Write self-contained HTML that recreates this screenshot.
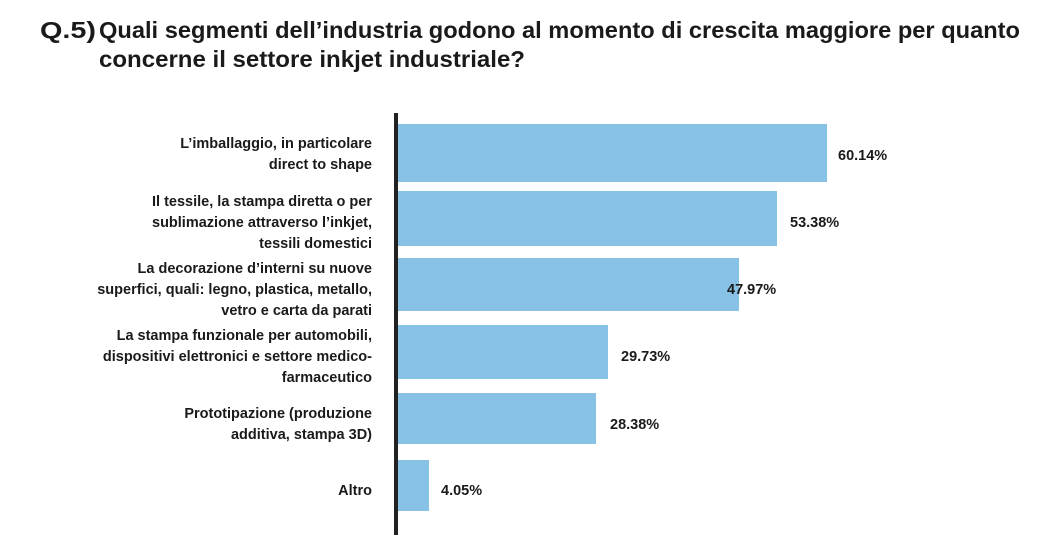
<!DOCTYPE html>
<html><head><meta charset="utf-8"><style>
html,body{margin:0;padding:0;background:#fff;}
svg{display:block;}
text{font-family:"Liberation Sans",sans-serif;font-weight:bold;fill:#1a1a1a;}
.l{font-size:14.5px;text-anchor:end;}
.v{font-size:14.5px;}
.t{font-size:23px;}
</style></head><body>
<svg width="1051" height="546" viewBox="0 0 1051 546">
<text class="t" x="40" y="38" textLength="56" lengthAdjust="spacingAndGlyphs">Q.5)</text>
<text class="t" x="99" y="38" textLength="921" lengthAdjust="spacingAndGlyphs">Quali segmenti dell’industria godono al momento di crescita maggiore per quanto</text>
<text class="t" x="99" y="67" textLength="426" lengthAdjust="spacingAndGlyphs">concerne il settore inkjet industriale?</text>
<rect x="394" y="113" width="4" height="422" fill="#222"/>
<g fill="#88c1e6">
<rect x="398" y="124" width="429" height="58"/>
<rect x="398" y="191" width="379" height="55"/>
<rect x="398" y="258" width="341" height="53"/>
<rect x="398" y="325" width="210" height="54"/>
<rect x="398" y="393" width="198" height="51"/>
<rect x="398" y="460" width="31" height="51"/>
</g>
<g class="l">
<text class="l" x="372" y="148">L’imballaggio, in particolare</text>
<text class="l" x="372" y="169">direct to shape</text>
<text class="l" x="372" y="206">Il tessile, la stampa diretta o per</text>
<text class="l" x="372" y="227">sublimazione attraverso l’inkjet,</text>
<text class="l" x="372" y="248">tessili domestici</text>
<text class="l" x="372" y="273">La decorazione d’interni su nuove</text>
<text class="l" x="372" y="294">superfici, quali: legno, plastica, metallo,</text>
<text class="l" x="372" y="315">vetro e carta da parati</text>
<text class="l" x="372" y="340">La stampa funzionale per automobili,</text>
<text class="l" x="372" y="361">dispositivi elettronici e settore medico-</text>
<text class="l" x="372" y="382">farmaceutico</text>
<text class="l" x="372" y="418">Prototipazione (produzione</text>
<text class="l" x="372" y="439">additiva, stampa 3D)</text>
<text class="l" x="372" y="495">Altro</text>
</g>
<text class="v" x="838" y="160">60.14%</text>
<text class="v" x="790" y="227">53.38%</text>
<text class="v" x="727" y="294">47.97%</text>
<text class="v" x="621" y="361">29.73%</text>
<text class="v" x="610" y="429">28.38%</text>
<text class="v" x="441" y="495">4.05%</text>
</svg>
</body></html>
